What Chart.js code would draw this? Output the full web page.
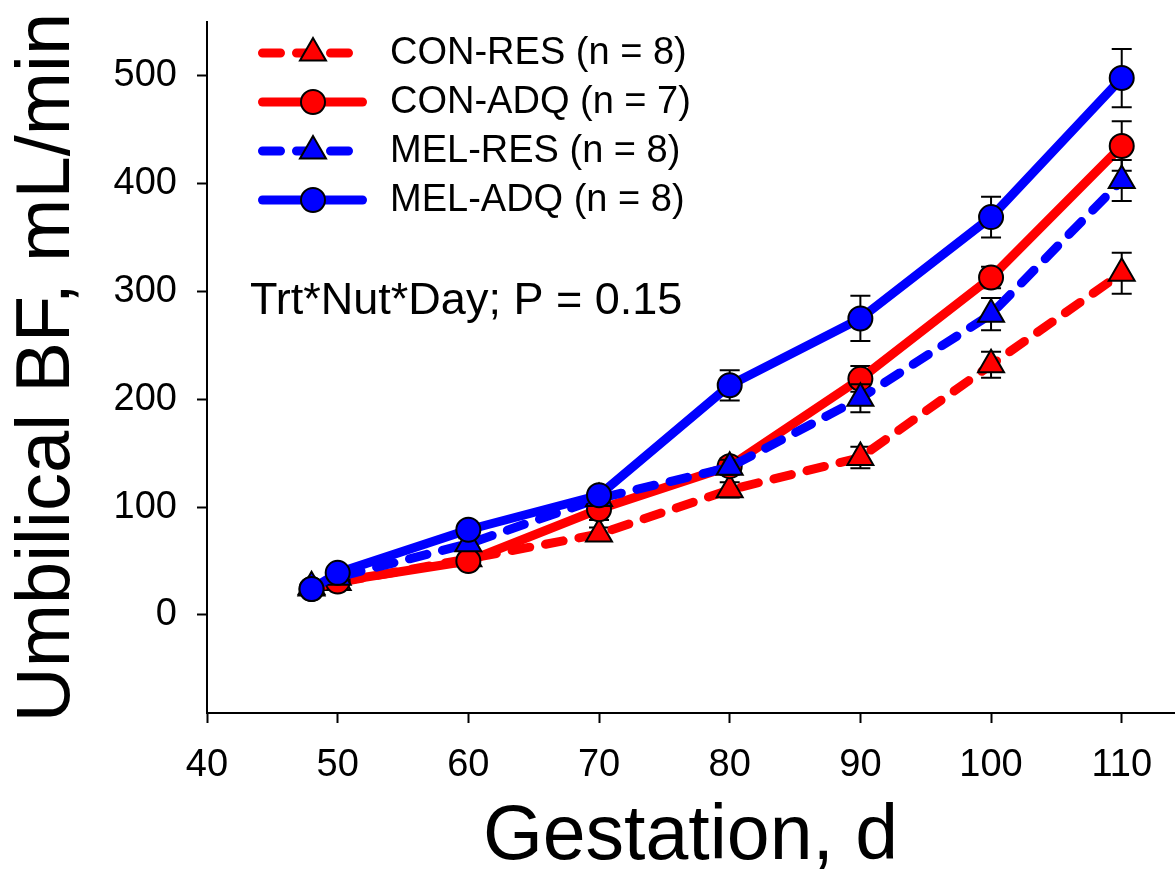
<!DOCTYPE html>
<html><head><meta charset="utf-8">
<script src="https://cdn.jsdelivr.net/npm/chart.js@4.4.1/dist/chart.umd.min.js"></script>
<style>html,body{margin:0;padding:0;background:#fff;} canvas{display:block;}</style>
</head><body>
<canvas id="c" width="1176" height="888"></canvas>
<script>
// ---- data ----
const days = [48, 50, 60, 70, 80, 90, 100, 110];
const conRes = [25, 30, 52, 75, 116, 146, 232, 317];
const conResSem = [3, 3, 5, 6, 7, 10, 12, 19];
const conAdq = [24, 31, 50, 98, 138, 219, 313, 435];
const conAdqSem = [3, 3, 5, 10, 7, 12, 10, 23];
const melRes = [26, 35, 66, 108, 137, 201, 279, 403];
const melResSem = [3, 3, 5, 6, 7, 13, 15, 19];
const melAdq = [24, 39, 79, 111, 213, 275, 369, 498];
const melAdqSem = [3, 4, 6, 6, 14, 21, 19, 27];
const xTicks = [40, 50, 60, 70, 80, 90, 100, 110];
const yTicks = [0, 100, 200, 300, 400, 500];
const seriesNames = ['CON-RES (n = 8)', 'CON-ADQ (n = 7)', 'MEL-RES (n = 8)', 'MEL-ADQ (n = 8)'];
const annotationText = 'Trt*Nut*Day; P = 0.15';
const xTitle = 'Gestation, d';
const yTitle = 'Umbilical BF, mL/min';

const FONT = "'Liberation Sans', Arial, sans-serif";
const RED = '#ff0000', BLUE = '#0000ff';
const DASH = [18, 16];

function mk(label, vals, sem, color, dashed, style, order) {
  return {
    label: label,
    data: days.map((d, i) => ({x: d, y: vals[i]})),
    sem: sem,
    borderColor: color,
    backgroundColor: color,
    borderWidth: 9,
    borderDash: dashed ? DASH : [],
    borderCapStyle: 'round',
    borderJoinStyle: 'round',
    pointStyle: style,
    pointRadius: style === 'triangle' ? 15 : 12,
    pointHoverRadius: style === 'triangle' ? 15 : 12,
    pointBackgroundColor: color,
    pointBorderColor: '#000',
    pointBorderWidth: 2,
    tension: 0,
    fill: false,
    order: order
  };
}

const datasets = [
  mk(seriesNames[0], conRes, conResSem, RED, true, 'triangle', 4),
  mk(seriesNames[1], conAdq, conAdqSem, RED, false, 'circle', 3),
  mk(seriesNames[2], melRes, melResSem, BLUE, true, 'triangle', 2),
  mk(seriesNames[3], melAdq, melAdqSem, BLUE, false, 'circle', 1)
];

const errorBars = {
  id: 'errorBars',
  beforeDatasetDraw(chart, args) {
    const ds = chart.data.datasets[args.index];
    const ys = chart.scales.y;
    const ctx = chart.ctx;
    ctx.save();
    ctx.strokeStyle = '#000';
    ctx.lineWidth = 2;
    ctx.setLineDash([]);
    args.meta.data.forEach((pt, i) => {
      const v = ds.data[i].y, s = ds.sem[i];
      const yt = ys.getPixelForValue(v + s), yb = ys.getPixelForValue(v - s);
      const x = pt.x;
      ctx.beginPath();
      ctx.moveTo(x, yt); ctx.lineTo(x, yb);
      ctx.moveTo(x - 10, yt); ctx.lineTo(x + 10, yt);
      ctx.moveTo(x - 10, yb); ctx.lineTo(x + 10, yb);
      ctx.stroke();
    });
    ctx.restore();
  }
};

const legendAndNote = {
  id: 'legendAndNote',
  afterDraw(chart) {
    const ctx = chart.ctx;
    const rows = [53, 102, 151, 200];
    chart.data.datasets.forEach((ds, i) => {
      const y = rows[i];
      ctx.save();
      ctx.strokeStyle = ds.borderColor;
      ctx.lineWidth = ds.borderWidth;
      ctx.lineCap = 'round';
      ctx.setLineDash(ds.borderDash);
      ctx.beginPath();
      ctx.moveTo(262.5, y);
      ctx.lineTo(ds.borderDash.length ? 349 : 362.5, y);
      ctx.stroke();
      ctx.setLineDash([]);
      ctx.fillStyle = ds.pointBackgroundColor;
      ctx.strokeStyle = '#000';
      ctx.lineWidth = 2;
      Chart.helpers.drawPoint(ctx, {
        pointStyle: ds.pointStyle, radius: ds.pointRadius, borderWidth: 2, rotation: 0
      }, 313, y);
      ctx.restore();
      ctx.save();
      ctx.fillStyle = '#000';
      ctx.font = '38px ' + FONT;
      ctx.textBaseline = 'middle';
      ctx.textAlign = 'left';
      ctx.fillText(ds.label, 390, y + 1);
      ctx.restore();
    });
    ctx.save();
    ctx.fillStyle = '#000';
    ctx.font = '45px ' + FONT;
    ctx.textBaseline = 'middle';
    ctx.textAlign = 'left';
    ctx.fillText(annotationText, 250, 302);
    ctx.restore();
  }
};

new Chart(document.getElementById('c'), {
  type: 'line',
  data: {datasets: datasets},
  options: {
    responsive: false,
    animation: false,
    devicePixelRatio: 1,
    events: [],
    layout: {autoPadding: false, padding: {top: 22, right: 2, left: 0, bottom: 0}},
    plugins: {legend: {display: false}, tooltip: {enabled: false}},
    scales: {
      x: {
        type: 'linear', min: 40, max: 114,
        afterBuildTicks: s => { s.ticks = xTicks.map(v => ({value: v})); },
        afterFit: s => { s.height = 175; s.paddingLeft = 0; s.paddingRight = 0; },
        border: {display: true, color: '#000', width: 2},
        grid: {display: true, drawOnChartArea: false, drawTicks: true, tickLength: 10, tickWidth: 2, tickColor: '#000', color: '#000'},
        ticks: {color: '#000', font: {family: FONT, size: 38}, padding: 20, maxRotation: 0, autoSkip: false},
        title: {display: true, text: xTitle, color: '#000', font: {family: FONT, size: 77, lineHeight: 1}, padding: {top: 0, bottom: 12}}
      },
      y: {
        type: 'linear', min: -91, max: 550,
        afterBuildTicks: s => { s.ticks = yTicks.map(v => ({value: v})); },
        afterFit: s => { s.width = 207; s.paddingTop = 0; s.paddingBottom = 0; },
        border: {display: true, color: '#000', width: 2},
        grid: {display: true, drawOnChartArea: false, drawTicks: true, tickLength: 10, tickWidth: 2, tickColor: '#000', color: '#000'},
        ticks: {color: '#000', font: {family: FONT, size: 38}, padding: 20, autoSkip: false},
        title: {display: true, text: yTitle, color: '#000', font: {family: FONT, size: 76, lineHeight: 1}, padding: {top: 10, bottom: 0}}
      }
    }
  },
  plugins: [errorBars, legendAndNote]
});
</script>
</body></html>
